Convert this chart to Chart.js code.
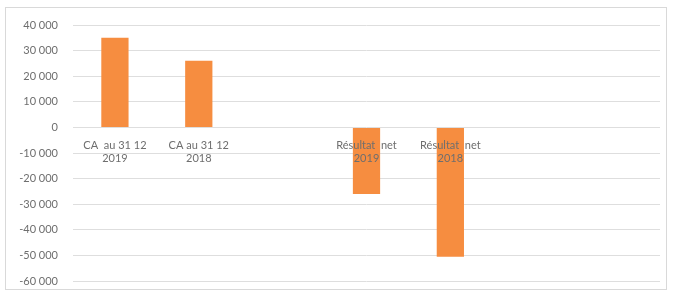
<!DOCTYPE html>
<html>
<head>
<meta charset="utf-8">
<script src="https://cdn.jsdelivr.net/npm/chart.js@4/dist/chart.umd.min.js"></script>
<style>
  html, body { margin: 0; padding: 0; background: #fff; }
  #frame {
    position: absolute; left: 5px; top: 7px;
    width: 660px; height: 281px;
    border: 1px solid #d9d9d9;
  }
</style>
</head>
<body>
<div id="frame"><canvas id="chart"></canvas></div>
<script>
// Données
const categories = [
    ['CA  au 31 12', '2019'],
    ['CA au 31 12', '2018'],
    '',
    ['Résultat  net', '2019'],
    ['Résultat  net', '2018'],
    '',
    ''
];
const values = [35000, 26000, null, -26000, -50500, null, null];
const yMin = -60000, yMax = 40000, yStep = 10000;

const fmt = v => {
    const s = Math.abs(v).toString().replace(/\B(?=(\d{3})+(?!\d))/g, ' ');
    return (v < 0 ? '-' : '') + s;
};

new Chart(document.getElementById('chart').getContext('2d'), {
    type: 'bar',
    data: {
        labels: categories,
        datasets: [{
            data: values,
            backgroundColor: '#f68d40',
            barPercentage: 0.65,
            categoryPercentage: 0.5
        }]
    },
    options: {
        responsive: true,
        maintainAspectRatio: false,
        animation: false,
        layout: { padding: { top: 17, right: 6, bottom: 8, left: 0 } },
        plugins: { legend: { display: false }, tooltip: { enabled: false } },
        scales: {
            x: {
                position: { y: 0 },
                grid: { display: false, drawTicks: false },
                border: { display: false },
                afterFit: s => { s.height = 0; s.paddingTop = 0; s.paddingBottom = 0; },
                ticks: {
                    z: 1, // étiquettes par-dessus les barres
                    autoSkip: false, maxRotation: 0, minRotation: 0,
                    padding: 11,
                    color: '#6e6e6e',
                    font: { family: 'Lato', size: 11 }
                }
            },
            y: {
                min: yMin, max: yMax,
                grid: { color: '#dedede', drawTicks: false },
                border: { display: false },
                afterFit: s => { s.width = 67; s.paddingTop = 0; s.paddingBottom = 0; },
                ticks: {
                    stepSize: yStep,
                    padding: 15,
                    color: '#6e6e6e',
                    font: { family: 'Lato', size: 11 },
                    callback: v => fmt(v)
                }
            }
        }
    }
});
</script>
</body>
</html>
